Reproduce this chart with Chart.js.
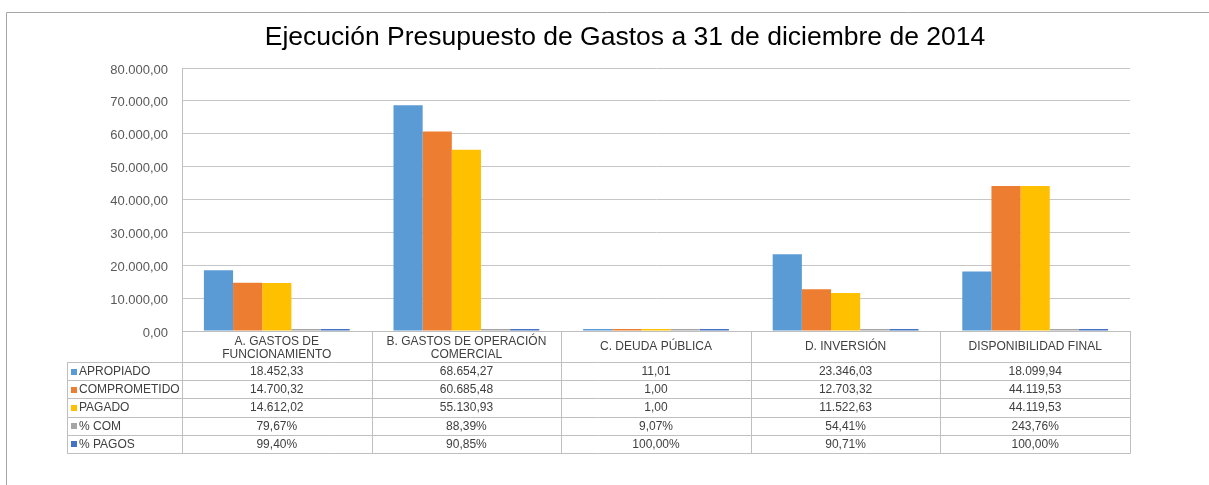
<!DOCTYPE html>
<html>
<head>
<meta charset="utf-8">
<script src="https://cdn.jsdelivr.net/npm/chart.js@4/dist/chart.umd.min.js"></script>
<style>
  html, body { margin: 0; padding: 0; background: #ffffff; }
  #wrap { position: relative; width: 1209px; height: 485px; }
  canvas { display: block; }
</style>
</head>
<body>
<div id="wrap"><canvas id="c" width="1209" height="485"></canvas></div>
<script>
// ---- data ----
const chartTitle = 'Ejecución Presupuesto de Gastos a 31 de diciembre de 2014';
const categories = [
  ['A. GASTOS DE', 'FUNCIONAMIENTO'],
  ['B. GASTOS DE OPERACIÓN', 'COMERCIAL'],
  ['C. DEUDA PÚBLICA'],
  ['D. INVERSIÓN'],
  ['DISPONIBILIDAD FINAL']
];
const seriesNames = ['APROPIADO', 'COMPROMETIDO', 'PAGADO', '% COM', '% PAGOS'];
const apropiado    = [18452.33, 68654.27, 11.01, 23346.03, 18099.94];
const comprometido = [14700.32, 60685.48, 1.00, 12703.32, 44119.53];
const pagado       = [14612.02, 55130.93, 1.00, 11522.63, 44119.53];
const pctCom       = [0.7967, 0.8839, 0.0907, 0.5441, 2.4376];
const pctPagos     = [0.9940, 0.9085, 1.0000, 0.9071, 1.0000];
const yMin = 0, yMax = 80000, yStep = 10000;

// ---- styles ----
const colors = ['#5b9bd5', '#ed7d31', '#ffc000', '#a5a5a5', '#4472c4'];
const FONT = "'Liberation Sans', Arial, sans-serif";
const seriesValues = [apropiado, comprometido, pagado, pctCom, pctPagos];
const isPercent = [false, false, false, true, true];

function fmtNum(v) {
  const s = Math.abs(v).toFixed(2);
  let [i, f] = s.split('.');
  i = i.replace(/\B(?=(\d{3})+(?!\d))/g, '.');
  return (v < 0 ? '-' : '') + i + ',' + f;
}
function fmtPct(v) { return fmtNum(v * 100) + '%'; }

const frameColor = '#a6a6a6';
const tableColor = '#bfbfbf';
const textColor = '#404040';

const tablePlugin = {
  id: 'tablePlugin',
  beforeDraw(chart) {
    const ctx = chart.ctx;
    ctx.save();
    ctx.strokeStyle = frameColor;
    ctx.lineWidth = 1;
    ctx.beginPath();
    ctx.moveTo(6.5, 485);
    ctx.lineTo(6.5, 12.5);
    ctx.lineTo(1209, 12.5);
    ctx.stroke();
    ctx.restore();
  },
  afterDraw(chart) {
    const ctx = chart.ctx;
    const xs = chart.scales.x;
    const area = chart.chartArea;
    const n = categories.length;
    const colW = (area.right - area.left) / n;
    const top = Math.round(area.bottom);
    const headerH = 31;
    const rowH = 18.2;
    const legendLeft = 67;
    const rowsTop = top + headerH;
    const bottom = rowsTop + rowH * seriesNames.length;
    const px = v => Math.round(v) + 0.5;

    ctx.save();
    // title
    ctx.fillStyle = '#000000';
    ctx.font = '26.5px ' + FONT;
    ctx.textAlign = 'center';
    ctx.textBaseline = 'middle';
    ctx.fillText(chartTitle, 625, 38);

    // grid lines of table
    ctx.strokeStyle = tableColor;
    ctx.lineWidth = 1;
    ctx.beginPath();
    for (let i = 0; i <= n; i++) {
      const x = px(area.left + colW * i);
      ctx.moveTo(x, top);
      ctx.lineTo(x, px(bottom));
    }
    ctx.moveTo(px(legendLeft), px(rowsTop));
    ctx.lineTo(px(legendLeft), px(bottom));
    for (let r = 0; r <= seriesNames.length; r++) {
      const y = px(rowsTop + rowH * r);
      ctx.moveTo(legendLeft, y);
      ctx.lineTo(px(area.right), y);
    }
    ctx.stroke();

    // header labels
    ctx.fillStyle = textColor;
    ctx.font = '12px ' + FONT;
    ctx.textAlign = 'center';
    ctx.textBaseline = 'middle';
    for (let i = 0; i < n; i++) {
      const cx = xs.getPixelForValue(i);
      const lines = categories[i];
      if (lines.length === 2) {
        ctx.fillText(lines[0], cx, top + 11);
        ctx.fillText(lines[1], cx, top + 23.5);
      } else {
        ctx.fillText(lines[0], cx, top + 16);
      }
    }

    // rows
    for (let r = 0; r < seriesNames.length; r++) {
      const cy = rowsTop + rowH * r + rowH / 2 + 0.5;
      ctx.fillStyle = colors[r];
      ctx.fillRect(71, Math.round(cy - 3), 6, 6);
      ctx.fillStyle = textColor;
      ctx.textAlign = 'left';
      ctx.fillText(seriesNames[r], 79, cy);
      ctx.textAlign = 'center';
      for (let i = 0; i < n; i++) {
        const cx = xs.getPixelForValue(i);
        const v = seriesValues[r][i];
        ctx.fillText(isPercent[r] ? fmtPct(v) : fmtNum(v), cx, cy);
      }
    }
    ctx.restore();
  }
};

const ctx = document.getElementById('c').getContext('2d');
new Chart(ctx, {
  type: 'bar',
  data: {
    labels: categories.map(c => c.join(' ')),
    datasets: seriesNames.map((name, k) => ({
      label: name,
      data: seriesValues[k],
      backgroundColor: colors[k],
      borderWidth: 0,
      minBarLength: 2,
      categoryPercentage: 0.769,
      barPercentage: 1.0
    }))
  },
  options: {
    responsive: false,
    animation: false,
    devicePixelRatio: 1,
    layout: { padding: { left: 0, right: 79, top: 68, bottom: 0 } },
    plugins: {
      legend: { display: false },
      title: { display: false },
      tooltip: { enabled: false }
    },
    scales: {
      x: {
        grid: { display: false, drawTicks: false },
        border: { display: true, color: tableColor },
        ticks: { display: false },
        afterFit: s => { s.height = 154; }
      },
      y: {
        min: yMin,
        max: yMax,
        grid: { color: '#c6c6c6', drawTicks: false },
        border: { display: true, color: tableColor },
        ticks: {
          stepSize: yStep,
          padding: 14,
          labelOffset: 2,
          color: '#595959',
          font: { family: FONT, size: 13 },
          callback: v => fmtNum(v)
        },
        afterFit: s => { s.width = 182; }
      }
    }
  },
  plugins: [tablePlugin]
});
</script>
</body>
</html>
